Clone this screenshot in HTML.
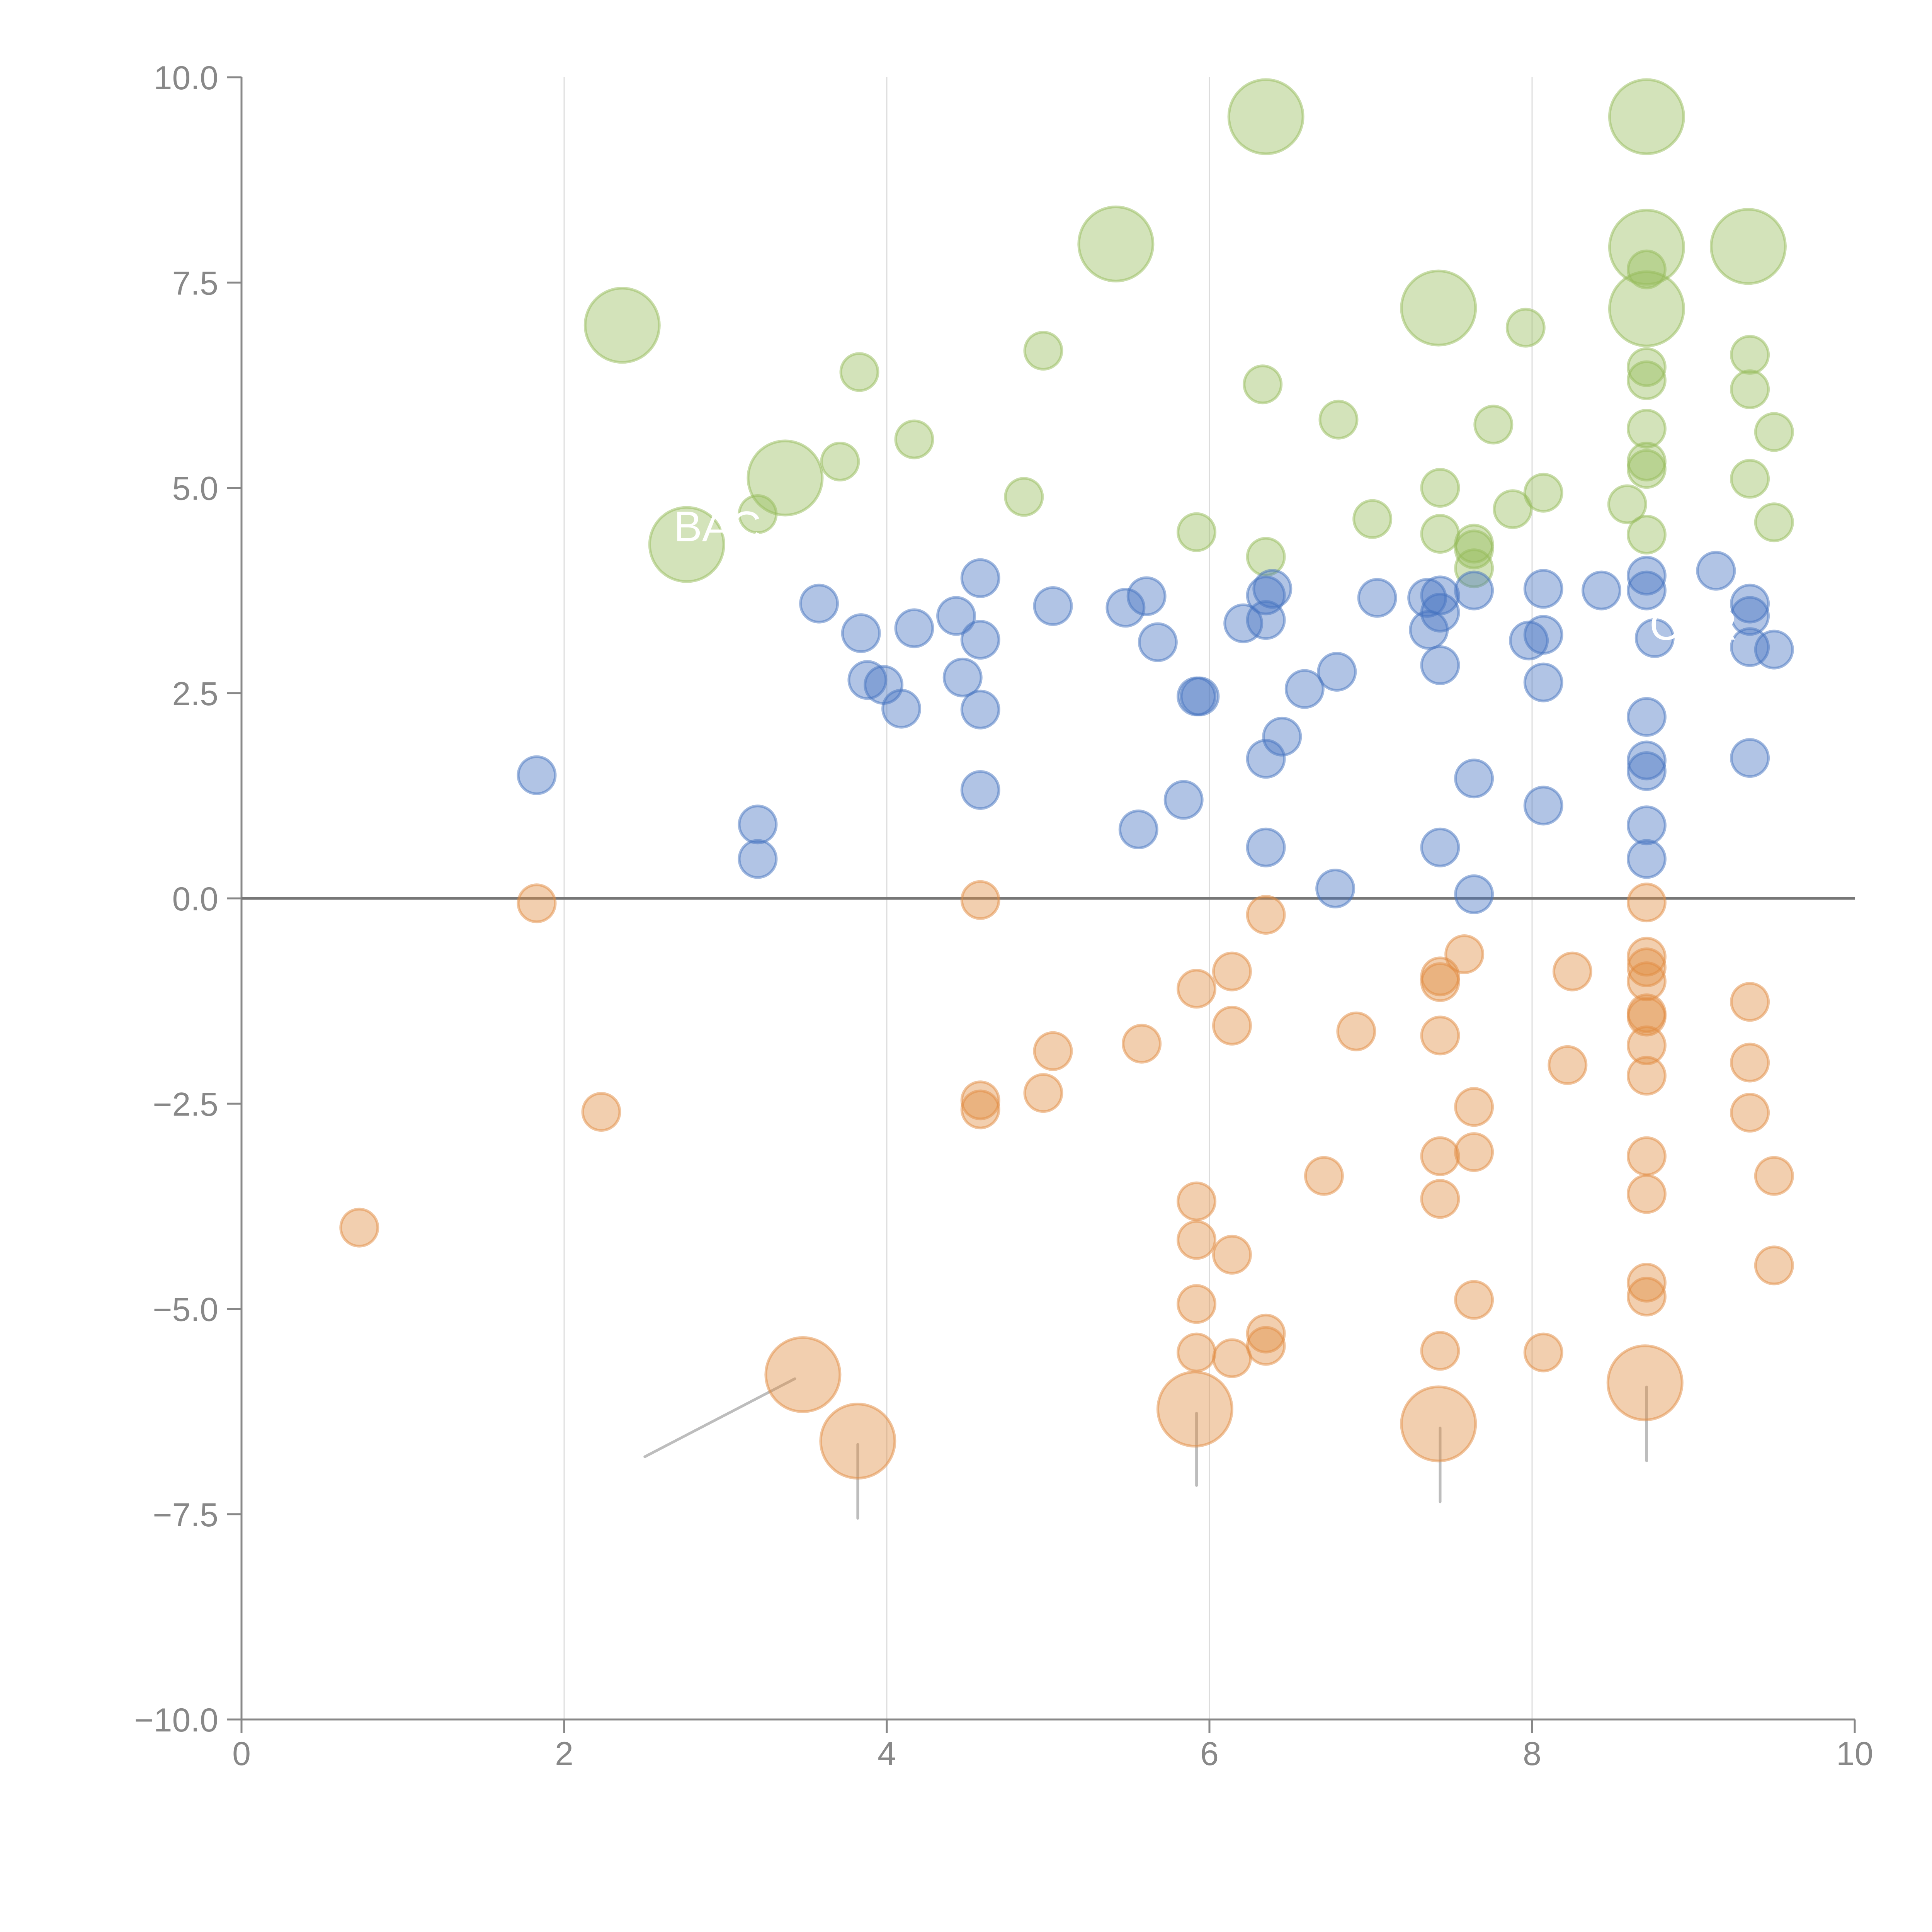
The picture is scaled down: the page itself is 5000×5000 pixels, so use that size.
<!DOCTYPE html>
<html><head><meta charset="utf-8"><style>
html,body{margin:0;padding:0;background:#fff;}
svg{display:block;font-family:"Liberation Sans",sans-serif;}
</style></head><body>
<svg id="chart" width="5000" height="5000" viewBox="0 0 5000 5000" xmlns="http://www.w3.org/2000/svg">
<g id="grid"></g>
<g id="axes"></g>
<g id="leaders"></g>
<g id="marks"></g>
<g id="labels"></g>
</svg>
<script>
const xTicks=[0,2,4,6,8,10];
const yTicks=[-10,-7.5,-5,-2.5,0,2.5,5,7.5,10];
const yTickLabels=["\u221210.0","\u22127.5","\u22125.0","\u22122.5","0.0","2.5","5.0","7.5","10.0"];
const blueX=[1.83,3.20,3.20,3.58,3.84,3.88,3.98,4.09,4.17,4.43,4.47,4.58,4.58,4.58,4.58,5.03,5.48,5.61,5.56,5.68,5.84,5.92,5.94,6.21,6.35,6.39,6.35,6.35,6.35,6.45,6.59,6.79,6.78,7.04,7.35,7.36,7.43,7.43,7.43,7.43,7.64,7.64,7.64,7.98,8.07,8.07,8.07,8.07,8.43,8.71,8.71,8.76,8.71,8.71,8.71,8.71,8.71,9.14,9.35,9.35,9.35,9.50,9.35];
const blueY=[1.50,0.90,0.48,3.59,3.23,2.66,2.60,2.31,3.29,3.44,2.69,3.90,3.15,2.30,1.32,3.56,3.54,3.68,0.84,3.12,1.20,2.46,2.46,3.35,3.69,3.77,3.39,1.70,0.62,1.97,2.55,2.76,0.12,3.66,3.66,3.27,3.48,3.69,2.84,0.62,3.75,1.46,0.05,3.14,3.77,3.21,2.63,1.13,3.75,3.93,3.75,3.17,2.21,1.68,1.55,0.89,0.48,3.99,3.59,3.44,3.06,3.03,1.71];
const orangeX=[0.73,1.83,2.23,3.48,3.82,4.58,4.58,4.58,4.97,5.03,5.58,5.92,5.92,5.92,5.92,5.92,5.91,6.14,6.14,6.14,6.14,6.35,6.35,6.35,6.71,6.91,7.43,7.43,7.43,7.43,7.43,7.43,7.42,7.58,7.64,7.64,7.64,8.07,8.22,8.25,8.71,8.71,8.71,8.71,8.71,8.71,8.71,8.71,8.71,8.71,8.71,8.71,8.70,9.35,9.35,9.35,9.50,9.50];
const orangeY=[-4.01,-0.06,-2.60,-5.80,-6.61,-0.02,-2.46,-2.57,-2.37,-1.86,-1.77,-1.10,-3.69,-4.16,-4.94,-5.53,-6.22,-0.89,-1.55,-4.34,-5.60,-0.20,-5.30,-5.45,-3.38,-1.62,-0.95,-1.02,-1.67,-3.14,-3.66,-5.51,-6.40,-0.68,-2.54,-3.09,-4.89,-5.53,-2.03,-0.89,-0.05,-0.71,-0.84,-1.01,-1.40,-1.44,-1.79,-2.16,-3.14,-3.60,-4.68,-4.85,-5.90,-1.26,-2.00,-2.61,-3.38,-4.47];
const orangeS=[1,1,1,4,4,1,1,1,1,1,1,1,1,1,1,1,4,1,1,1,1,1,1,1,1,1,1,1,1,1,1,1,4,1,1,1,1,1,1,1,1,1,1,1,1,1,1,1,1,1,1,1,4,1,1,1,1,1];
const greenX=[2.36,2.76,3.20,3.37,3.71,3.83,4.17,4.85,4.97,5.42,5.92,6.35,6.33,6.35,6.80,7.01,7.42,7.43,7.43,7.64,7.64,7.64,7.76,7.88,7.96,8.07,8.59,8.71,8.71,8.71,8.71,8.71,8.71,8.71,8.71,8.71,8.71,9.34,9.35,9.35,9.50,9.35,9.50];
const greenY=[6.98,4.31,4.68,5.12,5.32,6.41,5.59,4.89,6.67,7.97,4.46,9.52,6.26,4.16,5.83,4.62,7.19,5.00,4.44,4.32,4.25,4.02,5.77,4.74,6.95,4.94,4.80,9.52,7.93,7.18,7.66,6.47,6.31,5.72,5.32,5.23,4.43,7.94,6.62,6.20,5.68,5.11,4.58];
const greenS=[4,4,1,4,1,1,1,1,1,4,1,4,1,1,1,1,4,1,1,1,1,1,1,1,1,1,1,4,4,4,1,1,1,1,1,1,1,4,1,1,1,1,1];

const X0=625,X1=4800,Y0=4450,Y1=200;
function sx(v){return X0+(v-0)/(10-0)*(X1-X0);}
function sy(v){return Y0-(v+10)/20*(Y0-Y1);}
const NS="http://www.w3.org/2000/svg";
function mk(tag,attrs,parent){const e=document.createElementNS(NS,tag);for(const k in attrs)e.setAttribute(k,attrs[k]);parent.appendChild(e);return e;}
const grid=document.getElementById('grid'),axes=document.getElementById('axes'),marks=document.getElementById('marks'),leaders=document.getElementById('leaders'),labels=document.getElementById('labels');

xTicks.forEach(t=>{
  if(t>0&&t<10){const g=mk('line',{x1:sx(t),x2:sx(t),y1:Y1,y2:Y0,stroke:'#dcdcdc','stroke-width':3},grid);
  
  }
  const tk=mk('line',{x1:sx(t),x2:sx(t),y1:Y0,y2:Y0+35,stroke:'#888','stroke-width':5},axes);
  
  
  const tl=mk('text',{x:sx(t),y:Y0+118,'text-anchor':'middle','font-size':86,fill:'#888'},axes);
  tl.textContent=t;
  
  
});
yTicks.forEach((t,i)=>{
  const tk=mk('line',{x1:X0-37,x2:X0,y1:sy(t),y2:sy(t),stroke:'#888','stroke-width':5},axes);
  
  
  const tl=mk('text',{x:X0-60,y:sy(t)+31,'text-anchor':'end','font-size':86,fill:'#888'},axes);
  tl.textContent=yTickLabels[i];
  
  
});
const ya=mk('line',{x1:X0,x2:X0,y1:Y1,y2:Y0,stroke:'#888','stroke-width':5},axes);


const xa=mk('line',{x1:X0,x2:X1,y1:Y0,y2:Y0,stroke:'#888','stroke-width':5},axes);


const zl=mk('line',{x1:X0,x2:X1,y1:sy(0),y2:sy(0),stroke:'#777','stroke-width':7},axes);



function series(xs,ys,ss,fill,stroke,name){
  xs.forEach((x,i)=>{
    const s=ss?ss[i]:1;
    const c=mk('circle',{cx:sx(x),cy:sy(ys[i]),r:48*Math.sqrt(s),fill:fill,'fill-opacity':0.42,stroke:stroke,'stroke-opacity':0.5,'stroke-width':7},marks);
    
    
  });
}
series(greenX,greenY,greenS,'rgb(150,188,90)','rgb(150,188,90)','green-bubble');
series(blueX,blueY,null,'rgb(70,115,192)','rgb(70,115,192)','blue-bubble');
series(orangeX,orangeY,orangeS,'rgb(225,140,65)','rgb(225,140,65)','orange-bubble');

// leader lines for big orange bubbles
const leadSeg=[[3.43,-5.85,2.50,-6.80],[3.82,-6.65,3.82,-7.55],[5.92,-6.27,5.92,-7.15],[7.43,-6.45,7.43,-7.35],[8.71,-5.95,8.71,-6.85]];
leadSeg.forEach(s=>{
  const l=mk('line',{x1:sx(s[0]),y1:sy(s[1]),x2:sx(s[2]),y2:sy(s[3]),stroke:'#999','stroke-opacity':0.65,'stroke-width':7,'stroke-linecap':'round'},leaders);
  
  
});
const lab=[[2.95,4.35,'BAC'],[9.0,3.15,'OLR']];
lab.forEach(s=>{
  const t=mk('text',{x:sx(s[0]),y:sy(s[1]),'text-anchor':'middle','font-size':110,fill:'#fff'},labels);
  t.textContent=s[2];
  
  
});
</script>
</body></html>
